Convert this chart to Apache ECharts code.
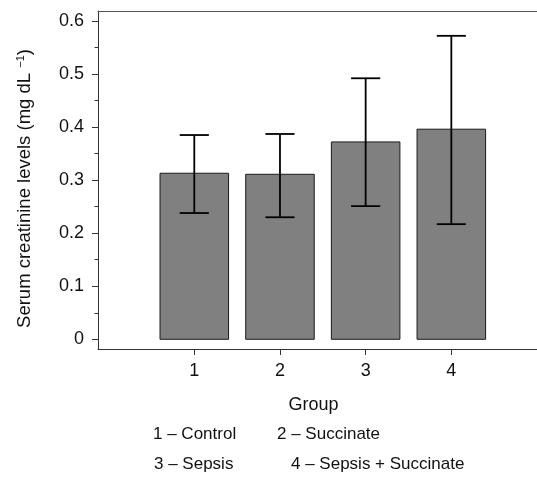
<!DOCTYPE html>
<html>
<head>
<meta charset="utf-8">
<script src="https://cdn.jsdelivr.net/npm/echarts@6/dist/echarts.min.js"></script>
<style>html,body{margin:0;padding:0;background:#fff;}#c{width:537px;height:477px;}</style>
</head>
<body>
<div id="c"></div>
<script>
var groups = [1, 2, 3, 4];
var means = [0.313, 0.311, 0.372, 0.396];
var upper = [0.385, 0.387, 0.492, 0.572];
var lower = [0.238, 0.230, 0.251, 0.217];
var yTicks = [0, 0.1, 0.2, 0.3, 0.4, 0.5, 0.6];
var yMinorTicks = [0.05, 0.15, 0.25, 0.35, 0.45, 0.55];
var legendLabels = ['1 \u2013 Control', '2 \u2013 Succinate', '3 \u2013 Sepsis', '4 \u2013 Sepsis + Succinate'];

var FONT = '"Liberation Sans", Arial, sans-serif';
var chart = echarts.init(document.getElementById('c'), null, {renderer: 'canvas'});

var barData = groups.map(function (g, i) { return [g, means[i]]; });
var errData = groups.map(function (g, i) { return [g, lower[i], upper[i]]; });

var legendPos = [[153, 434], [277, 434], [154, 464], [291, 464]];

chart.setOption({
  animation: false,
  backgroundColor: '#fff',
  grid: {left: 98, right: 0, top: 11, bottom: 128},
  xAxis: [{
    type: 'value', min: -0.124, max: 5.0, position: 'bottom',
    name: 'Group', nameLocation: 'middle', nameGap: 47,
    nameTextStyle: {fontFamily: FONT, fontSize: 18, color: '#111', padding: [0, 8, 0, 0]},
    axisLine: {show: true, onZero: false, lineStyle: {color: '#333', width: 1}},
    axisTick: {show: true, customValues: groups, length: 6, lineStyle: {color: '#333'}},
    axisLabel: {customValues: groups, margin: 13, fontFamily: FONT, fontSize: 18, color: '#111'},
    splitLine: {show: false}
  }, {
    type: 'value', min: -0.124, max: 5.0, position: 'top',
    axisLine: {show: true, onZero: false, lineStyle: {color: '#555', width: 1}},
    axisTick: {show: false}, axisLabel: {show: false}, splitLine: {show: false}
  }],
  yAxis: [{
    type: 'value', min: -0.0183, max: 0.6188, position: 'left',
    name: 'Serum creatinine levels (mg dL {sup|\u22121})', nameLocation: 'middle', nameGap: 64, nameRotate: 90,
    nameTextStyle: {fontFamily: FONT, fontSize: 18.5, color: '#111', padding: [0, 17, 0, 0],
      rich: {sup: {fontFamily: FONT, fontSize: 11, color: '#111', verticalAlign: 'top', padding: [0, 0, 8, 0]}}},
    axisLine: {show: true, onZero: false, lineStyle: {color: '#333', width: 1}},
    axisTick: {show: true, customValues: yTicks, length: 6, lineStyle: {color: '#333'}},
    axisLabel: {customValues: yTicks, margin: 14, fontFamily: FONT, fontSize: 18, color: '#111',
      formatter: function (v) { return v === 0 ? '0' : v.toFixed(1); }},
    splitLine: {show: false}
  }, {
    type: 'value', min: -0.0183, max: 0.6188, position: 'left', offset: 0,
    axisLine: {show: false, onZero: false},
    axisTick: {show: true, inside: false, customValues: yMinorTicks, length: 3.5, lineStyle: {color: '#333'}},
    axisLabel: {show: false}, splitLine: {show: false}
  }],
  graphic: legendLabels.map(function (t, i) {
    return {type: 'text', x: legendPos[i][0], y: legendPos[i][1],
      style: {text: t, font: '17px ' + FONT, fill: '#111', textAlign: 'left', textVerticalAlign: 'middle'}};
  }),
  series: [{
    type: 'custom', xAxisIndex: 0, yAxisIndex: 0,
    data: barData,
    encode: {x: 0, y: 1},
    renderItem: function (params, api) {
      var x = api.value(0), y = api.value(1);
      var top = api.coord([x, y]);
      var base = api.coord([x, 0]);
      var w = api.size([0.8, 0])[0];
      return {type: 'rect', shape: {x: top[0] - w / 2, y: top[1], width: w, height: base[1] - top[1]},
        style: {fill: '#808080', stroke: '#1a1a1a', lineWidth: 1}};
    }
  }, {
    type: 'custom', xAxisIndex: 0, yAxisIndex: 0,
    data: errData,
    encode: {x: 0, y: [1, 2]},
    z: 3,
    renderItem: function (params, api) {
      var x = api.value(0);
      var lo = api.coord([x, api.value(1)]);
      var hi = api.coord([x, api.value(2)]);
      var cw = api.size([0.34, 0])[0] / 2;
      var st = {stroke: '#000', lineWidth: 1.8};
      return {type: 'group', children: [
        {type: 'line', shape: {x1: hi[0], y1: hi[1], x2: lo[0], y2: lo[1]}, style: st},
        {type: 'line', shape: {x1: hi[0] - cw, y1: hi[1], x2: hi[0] + cw, y2: hi[1]}, style: st},
        {type: 'line', shape: {x1: lo[0] - cw, y1: lo[1], x2: lo[0] + cw, y2: lo[1]}, style: st}
      ]};
    }
  }]
});
</script>
</body>
</html>
